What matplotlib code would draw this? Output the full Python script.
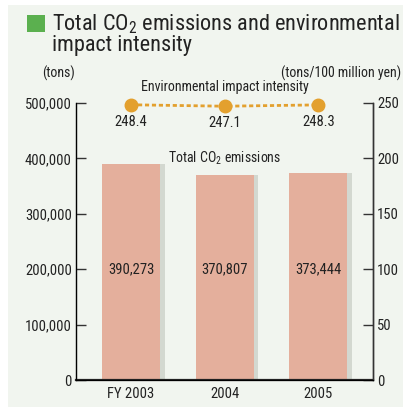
import matplotlib.pyplot as plt
from matplotlib.patches import Rectangle

years = ['FY 2003', '2004', '2005']
co2 = [390273, 370807, 373444]
intensity = [248.4, 247.1, 248.3]

plt.rcParams['font.family'] = ['Roboto Condensed', 'DejaVu Sans']
plt.rcParams['mathtext.fontset'] = 'custom'
plt.rcParams['mathtext.rm'] = 'Roboto Condensed'
plt.rcParams['mathtext.default'] = 'rm'

W, H = 403, 407
fig = plt.figure(figsize=(W / 100, H / 100), dpi=100, facecolor='white')
fig.add_artist(Rectangle((8 / W, 0), 1, 1 - 5 / H, transform=fig.transFigure,
                         facecolor='#f1f5ef', edgecolor='none', zorder=-10))

# title
fig.add_artist(Rectangle((27 / W, 1 - 32 / H), 18 / W, 17 / H, transform=fig.transFigure,
                         facecolor='#5bb04f', edgecolor='none', zorder=-5))
fig.text(52 / W, 1 - 24 / H, 'Total CO$_2$ emissions and environmental', fontsize=16,
         va='center', ha='left', color='#222222')
fig.text(52 / W, 1 - 46 / H, 'impact intensity', fontsize=16, va='center', ha='left', color='#222222')

ax = fig.add_axes([76 / W, 1 - 380 / H, (373 - 76) / W, (380 - 103) / H])
ax.set_facecolor('none')
x = range(len(years))
# soft shadow then bars
ax.bar([i + 0.05 for i in x], co2, width=0.62, color='#d3d8d0', zorder=1)
ax.bar(x, co2, width=0.62, color='#e4af9c', zorder=2)
for i, v in enumerate(co2):
    ax.text(i, 200000, f'{v:,}', ha='center', va='center', fontsize=10.5, color='#222222', zorder=3)
ax.text(1, 401000, 'Total CO$_2$ emissions', ha='center', va='center', fontsize=10, color='#222222')

ax.set_xlim(-0.588, 2.583)
ax.set_ylim(0, 500000)
ax.set_yticks(range(0, 500001, 100000))
ax.set_yticklabels([f'{v:,}' for v in range(0, 500001, 100000)])
ax.set_xticks(list(x))
ax.set_xticklabels(years)
ax.tick_params(axis='x', length=0, labelsize=10.5, pad=5, labelcolor='#222222')
ax.tick_params(axis='y', direction='in', length=7, width=1, labelsize=10.5, pad=3,
               color='#333333', labelcolor='#222222')
ax.spines['top'].set_visible(False)
for s in ['left', 'right']:
    ax.spines[s].set_linewidth(1.0)
    ax.spines[s].set_color('#333333')
ax.spines['bottom'].set_linewidth(1.6)
ax.spines['bottom'].set_color('#222222')

ax2 = ax.twinx()
ax2.set_ylim(0, 250)
ax2.set_yticks(range(0, 251, 50))
ax2.tick_params(axis='y', direction='in', length=7, width=1, labelsize=10.5, pad=3,
                color='#333333', labelcolor='#222222')
ax2.spines['top'].set_visible(False)
ax2.spines['right'].set_linewidth(1.0)
ax2.spines['right'].set_color('#333333')
ax2.plot(list(x), intensity, color='#e3a02e', linestyle=(0, (1.5, 1)), linewidth=2,
         marker='o', markersize=9, zorder=5, clip_on=False)
for i, v in enumerate(intensity):
    ax2.text(i, v - 15.5, f'{v}', ha='center', va='center', fontsize=10.5, color='#222222')
ax2.text(1, 264, 'Environmental impact intensity', ha='center', va='center', fontsize=10,
         color='#222222', clip_on=False)

fig.text(42 / W, 1 - 73 / H, '(tons)', fontsize=10, ha='left', va='center', color='#222222')
fig.text(401 / W, 1 - 73 / H, '(tons/100 million yen)', fontsize=10, ha='right', va='center', color='#222222')

fig.savefig('out.png', dpi=100, facecolor=fig.get_facecolor())
